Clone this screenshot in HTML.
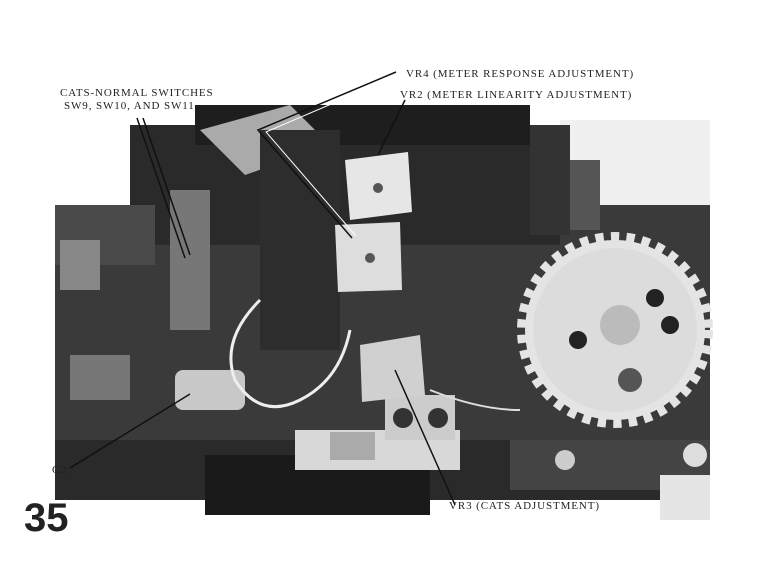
<!DOCTYPE html>
<html><head><style>
html,body{margin:0;padding:0;background:#fff;width:762px;height:585px;overflow:hidden}
svg{display:block}
text{font-family:"Liberation Serif",serif;font-size:11px;fill:#222;letter-spacing:0.9px}
</style></head><body>
<svg width="762" height="585" viewBox="0 0 762 585">
<rect width="762" height="585" fill="#fff"/>
<rect x="560" y="120" width="150" height="90" fill="#f0f0f0"/>
<!-- main dark body -->
<rect x="55" y="205" width="655" height="265" fill="#3a3a3a"/>
<rect x="130" y="125" width="430" height="120" fill="#2a2a2a"/>
<rect x="195" y="105" width="335" height="40" fill="#1e1e1e"/>
<rect x="530" y="125" width="40" height="110" fill="#333"/>
<rect x="570" y="160" width="30" height="70" fill="#555"/>
<rect x="55" y="205" width="100" height="60" fill="#4a4a4a"/>
<rect x="60" y="240" width="40" height="50" fill="#888"/>
<rect x="70" y="355" width="60" height="45" fill="#777"/>
<polygon points="200,130 290,105 330,145 245,175" fill="#aaa"/>
<rect x="170" y="190" width="40" height="140" fill="#777"/>
<rect x="260" y="130" width="80" height="220" fill="#2d2d2d"/>
<!-- bottom bar -->
<rect x="55" y="440" width="655" height="60" fill="#2a2a2a"/>
<rect x="205" y="455" width="225" height="60" fill="#1a1a1a"/>
<rect x="295" y="430" width="165" height="40" fill="#d8d8d8"/>
<rect x="330" y="432" width="45" height="28" fill="#aaa"/>
<rect x="385" y="395" width="70" height="45" fill="#ccc"/>
<circle cx="403" cy="418" r="10" fill="#333"/><circle cx="438" cy="418" r="10" fill="#333"/>
<rect x="175" y="370" width="70" height="40" rx="8" fill="#c8c8c8"/>
<polygon points="345,160 408,152 412,212 350,220" fill="#e6e6e6"/>
<polygon points="335,225 400,222 402,290 338,292" fill="#ddd"/>
<polygon points="360,345 420,335 425,395 362,402" fill="#d0d0d0"/>
<circle cx="378" cy="188" r="5" fill="#555"/><circle cx="370" cy="258" r="5" fill="#555"/>
<path d="M260,300 Q220,340 235,380 Q260,420 300,400 Q340,380 350,330" stroke="#eee" stroke-width="3" fill="none"/>
<path d="M430,390 Q480,410 520,410" stroke="#ddd" stroke-width="2" fill="none"/>
<!-- gear -->
<circle cx="615" cy="330" r="90" fill="#e4e4e4" stroke="#e4e4e4" stroke-width="16" stroke-dasharray="8 7"/>
<circle cx="615" cy="330" r="82" fill="#dcdcdc"/>
<circle cx="620" cy="325" r="20" fill="#bbb"/>
<circle cx="655" cy="298" r="9" fill="#222"/><circle cx="670" cy="325" r="9" fill="#222"/>
<circle cx="578" cy="340" r="9" fill="#222"/><circle cx="630" cy="380" r="12" fill="#555"/>
<rect x="510" y="440" width="200" height="50" fill="#444"/>
<circle cx="565" cy="460" r="10" fill="#ccc"/><circle cx="695" cy="455" r="12" fill="#ddd"/>
<rect x="660" y="475" width="50" height="45" fill="#e5e5e5"/>
<!-- leader lines -->
<g stroke="#111" stroke-width="1.5" fill="none">
<polyline points="396,72 258,130 352,238"/>
<polyline points="392,78 266,132 356,236" stroke="#fff" stroke-width="1"/>
<line x1="405" y1="100" x2="378" y2="155"/>
<line x1="137" y1="118" x2="185" y2="258"/>
<line x1="143" y1="118" x2="190" y2="255"/>
<line x1="70" y1="468" x2="190" y2="394"/>
<line x1="455" y1="505" x2="395" y2="370"/>
</g>
<text x="406" y="77">VR4 (METER RESPONSE ADJUSTMENT)</text>
<text x="400" y="98">VR2 (METER LINEARITY ADJUSTMENT)</text>
<text x="60" y="96">CATS-NORMAL SWITCHES</text>
<text x="64" y="109">SW9, SW10, AND SW11</text>
<text x="52" y="473">C2</text>
<text x="449" y="509">VR3 (CATS ADJUSTMENT)</text>
<text x="24" y="531" style="font-family:'Liberation Sans',sans-serif;font-weight:bold;font-size:40px;fill:#222;letter-spacing:0">35</text>
</svg>
</body></html>
